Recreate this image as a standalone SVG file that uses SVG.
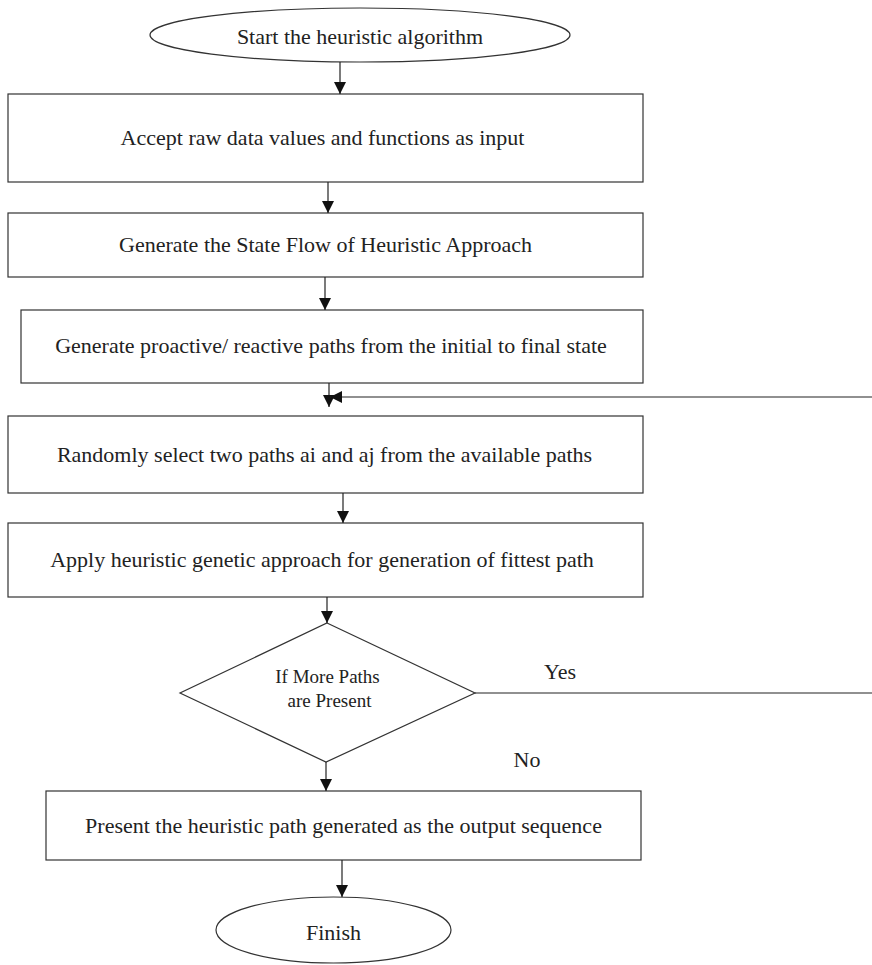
<svg xmlns="http://www.w3.org/2000/svg" width="872" height="965" viewBox="0 0 872 965">
<defs>
<marker id="ah" viewBox="0 0 12 12" refX="12" refY="6" markerWidth="12" markerHeight="12" markerUnits="userSpaceOnUse" orient="auto">
<path d="M0,0 L12,6 L0,12 Z" fill="#111"/>
</marker>
<style>
.shape{fill:#fff;stroke:#333;stroke-width:1.2}
.t{font-family:"Liberation Serif","Times New Roman",serif;font-size:22px;fill:#222;text-anchor:middle}
.d{font-size:19px}
.c{fill:none;stroke:#222;stroke-width:1.2}
.a{marker-end:url(#ah)}
</style>
</defs>
<rect width="872" height="965" fill="#fff"/>
<g id="start"><ellipse class="shape" cx="360" cy="35" rx="210" ry="27"/><text class="t" x="360" y="44">Start the heuristic algorithm</text></g>
<g id="accept"><rect class="shape" x="8" y="94" width="635" height="88"/><text class="t" x="322.5" y="145">Accept raw data values and functions as input</text></g>
<g id="stateflow"><rect class="shape" x="8" y="213" width="635" height="64"/><text class="t" x="325.5" y="252">Generate the State Flow of Heuristic Approach</text></g>
<g id="paths"><rect class="shape" x="21" y="310" width="622" height="73"/><text class="t" x="331" y="353">Generate proactive/ reactive paths from the initial to final state</text></g>
<g id="select"><rect class="shape" x="8" y="416" width="635" height="77"/><text class="t" x="324.5" y="462">Randomly select two paths ai and aj from the available paths</text></g>
<g id="apply"><rect class="shape" x="8" y="523" width="635" height="74"/><text class="t" x="322" y="567">Apply heuristic genetic approach for generation of fittest path</text></g>
<g id="decision"><polygon class="shape" points="327,623 475,693 326,762 180,693"/><text class="t d" x="327.5" y="683">If More Paths</text><text class="t d" x="329.5" y="707">are Present</text></g>
<g id="present"><rect class="shape" x="46" y="791" width="595" height="69"/><text class="t" x="343.5" y="833">Present the heuristic path generated as the output sequence</text></g>
<g id="finish"><ellipse class="shape" cx="333.5" cy="930" rx="117.5" ry="33"/><text class="t" x="333.5" y="940">Finish</text></g>
<g id="connectors">
<line class="c a" x1="340" y1="62" x2="340" y2="94"/>
<line class="c a" x1="328" y1="182" x2="328" y2="213"/>
<line class="c a" x1="325" y1="277" x2="325" y2="310"/>
<line class="c a" x1="329" y1="383" x2="329" y2="407"/>
<line class="c a" x1="872" y1="397" x2="330" y2="397"/>
<line class="c a" x1="343" y1="493" x2="343" y2="523"/>
<line class="c a" x1="327" y1="597" x2="327" y2="623"/>
<line class="c" x1="475" y1="693" x2="872" y2="693"/>
<line class="c a" x1="326" y1="762" x2="326" y2="791"/>
<line class="c a" x1="342" y1="860" x2="342" y2="897"/>
<text class="t" x="560" y="679">Yes</text>
<text class="t" x="527" y="767">No</text>
</g>
</svg>
